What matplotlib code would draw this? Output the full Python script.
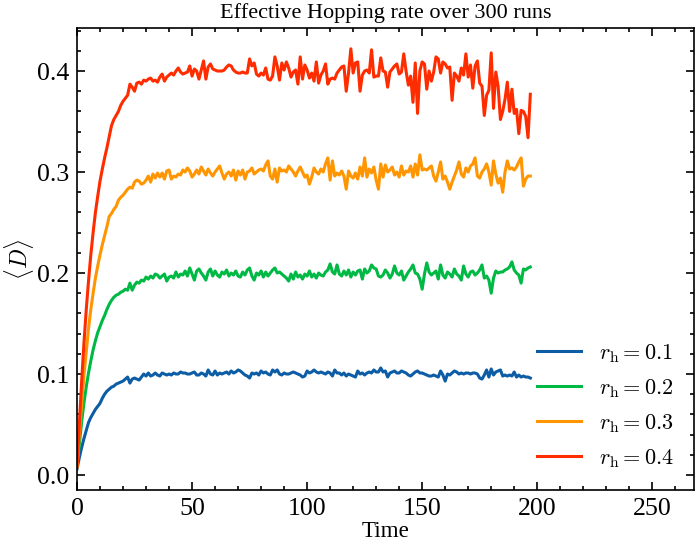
import numpy as np
import matplotlib
matplotlib.use("Agg")
import matplotlib.pyplot as plt
from matplotlib.ticker import MultipleLocator, AutoMinorLocator

# mean hopping rate <D> per time step
d_01 = [
    0.006, 0.017, 0.027, 0.036, 0.044, 0.052, 0.057, 0.061, 0.065, 0.068,
    0.071, 0.076, 0.080, 0.083, 0.085, 0.087, 0.088, 0.090, 0.091, 0.092,
    0.093, 0.095, 0.097, 0.091, 0.095, 0.096, 0.095, 0.094, 0.097, 0.100,
    0.098, 0.101, 0.098, 0.099, 0.101, 0.099, 0.098, 0.101, 0.100, 0.099,
    0.100, 0.099, 0.101, 0.100, 0.100, 0.102, 0.101, 0.101, 0.100, 0.100,
    0.101, 0.102, 0.099, 0.099, 0.101, 0.100, 0.098, 0.104, 0.100, 0.099,
    0.103, 0.099, 0.101, 0.100, 0.101, 0.102, 0.100, 0.103, 0.101, 0.102,
    0.104, 0.103, 0.101, 0.099, 0.098, 0.096, 0.101, 0.100, 0.101, 0.099,
    0.103, 0.101, 0.102, 0.100, 0.099, 0.104, 0.102, 0.104, 0.100, 0.099,
    0.101, 0.100, 0.100, 0.101, 0.102, 0.101, 0.100, 0.099, 0.097, 0.098,
    0.103, 0.101, 0.102, 0.104, 0.102, 0.101, 0.102, 0.101, 0.100, 0.102,
    0.101, 0.098, 0.104, 0.101, 0.101, 0.099, 0.101, 0.098, 0.100, 0.099,
    0.098, 0.097, 0.103, 0.100, 0.101, 0.099, 0.101, 0.102, 0.101, 0.104,
    0.102, 0.102, 0.106, 0.102, 0.103, 0.097, 0.101, 0.102, 0.103, 0.101,
    0.101, 0.103, 0.102, 0.101, 0.099, 0.098, 0.100, 0.102, 0.103, 0.101,
    0.101, 0.100, 0.099, 0.098, 0.098, 0.099, 0.098, 0.097, 0.103, 0.099,
    0.093, 0.100, 0.099, 0.101, 0.103, 0.102, 0.100, 0.101, 0.100, 0.101,
    0.101, 0.100, 0.101, 0.101, 0.100, 0.096, 0.095, 0.099, 0.104, 0.097,
    0.105, 0.099, 0.102, 0.103, 0.104, 0.098, 0.099, 0.098, 0.099, 0.098,
    0.102, 0.097, 0.099, 0.097, 0.098, 0.097, 0.097, 0.096,
]
d_02 = [
    0.008, 0.030, 0.052, 0.071, 0.087, 0.101, 0.113, 0.124, 0.133, 0.141,
    0.147, 0.153, 0.158, 0.164, 0.169, 0.173, 0.176, 0.178, 0.179, 0.181,
    0.182, 0.184, 0.183, 0.190, 0.183, 0.188, 0.191, 0.190, 0.193, 0.192,
    0.196, 0.194, 0.197, 0.195, 0.199, 0.198, 0.195, 0.197, 0.199, 0.192,
    0.196, 0.197, 0.195, 0.201, 0.196, 0.199, 0.198, 0.202, 0.197, 0.205,
    0.199, 0.193, 0.202, 0.204, 0.200, 0.197, 0.193, 0.201, 0.204, 0.197,
    0.202, 0.198, 0.196, 0.201, 0.199, 0.203, 0.197, 0.200, 0.198, 0.202,
    0.197, 0.196, 0.201, 0.198, 0.203, 0.205, 0.197, 0.193, 0.200, 0.198,
    0.202, 0.196, 0.201, 0.197, 0.200, 0.203, 0.205, 0.200, 0.201, 0.199,
    0.197, 0.195, 0.192, 0.199, 0.194, 0.201, 0.196, 0.198, 0.194, 0.199,
    0.197, 0.202, 0.196, 0.199, 0.195, 0.200, 0.198, 0.197, 0.201, 0.203,
    0.209, 0.201, 0.199, 0.208, 0.199, 0.197, 0.202, 0.198, 0.203, 0.196,
    0.201, 0.198, 0.202, 0.203, 0.194, 0.204, 0.200, 0.202, 0.208, 0.205,
    0.204, 0.197, 0.196, 0.198, 0.203, 0.200, 0.195, 0.199, 0.207, 0.200,
    0.198, 0.202, 0.193, 0.197, 0.201, 0.204, 0.208, 0.200, 0.199, 0.194,
    0.184, 0.199, 0.210, 0.201, 0.198, 0.200, 0.202, 0.194, 0.208, 0.198,
    0.195, 0.201, 0.199, 0.196, 0.204, 0.199, 0.197, 0.193, 0.207, 0.199,
    0.196, 0.201, 0.202, 0.198, 0.200, 0.203, 0.208, 0.195, 0.197, 0.193,
    0.180, 0.195, 0.202, 0.200, 0.201, 0.201, 0.203, 0.204, 0.206, 0.211,
    0.203, 0.200, 0.198, 0.190, 0.204, 0.203, 0.205, 0.206,
]
d_03 = [
    0.008, 0.040, 0.070, 0.098, 0.122, 0.145, 0.164, 0.180, 0.195, 0.207,
    0.218, 0.228, 0.237, 0.246, 0.256, 0.259, 0.263, 0.266, 0.272, 0.275,
    0.277, 0.280, 0.283, 0.285, 0.284, 0.290, 0.292, 0.291, 0.288, 0.289,
    0.292, 0.296, 0.290, 0.298, 0.294, 0.299, 0.295, 0.299, 0.293, 0.301,
    0.302, 0.293, 0.296, 0.295, 0.298, 0.297, 0.302, 0.300, 0.304, 0.301,
    0.295, 0.298, 0.302, 0.298, 0.305, 0.301, 0.297, 0.303, 0.299, 0.296,
    0.300, 0.303, 0.306, 0.299, 0.293, 0.298, 0.300, 0.296, 0.302, 0.292,
    0.301, 0.297, 0.302, 0.293, 0.300, 0.301, 0.304, 0.298, 0.300, 0.302,
    0.303, 0.301, 0.307, 0.311, 0.296, 0.293, 0.303, 0.290, 0.304, 0.301,
    0.302, 0.300, 0.306, 0.303, 0.300, 0.296, 0.301, 0.305, 0.300, 0.295,
    0.297, 0.288, 0.295, 0.304, 0.300, 0.298, 0.303, 0.300, 0.308, 0.314,
    0.292, 0.311, 0.296, 0.299, 0.297, 0.301, 0.296, 0.283, 0.301, 0.296,
    0.294, 0.299, 0.293, 0.305, 0.296, 0.314, 0.295, 0.303, 0.299, 0.305,
    0.292, 0.283, 0.308, 0.295, 0.307, 0.300, 0.302, 0.305, 0.297, 0.300,
    0.295, 0.306, 0.297, 0.301, 0.300, 0.306, 0.295, 0.308, 0.297, 0.317,
    0.302, 0.303, 0.302, 0.304, 0.306, 0.296, 0.291, 0.300, 0.310, 0.293,
    0.296, 0.290, 0.283, 0.290, 0.296, 0.302, 0.310, 0.298, 0.295, 0.304,
    0.300, 0.306, 0.308, 0.314, 0.296, 0.294, 0.300, 0.303, 0.308, 0.300,
    0.287, 0.311, 0.298, 0.289, 0.294, 0.280, 0.300, 0.311, 0.303, 0.304,
    0.302, 0.305, 0.310, 0.314, 0.286, 0.293, 0.296, 0.296,
]
d_04 = [
    0.008, 0.050, 0.092, 0.130, 0.163, 0.192, 0.218, 0.240, 0.260, 0.276,
    0.291, 0.303, 0.314, 0.324, 0.335, 0.346, 0.352, 0.356, 0.360, 0.366,
    0.370, 0.373, 0.376, 0.387, 0.384, 0.380, 0.388, 0.389, 0.387, 0.391,
    0.390, 0.392, 0.393, 0.390, 0.391, 0.389, 0.394, 0.397, 0.390, 0.394,
    0.396, 0.398, 0.396, 0.400, 0.403, 0.399, 0.397, 0.398, 0.399, 0.405,
    0.395, 0.402, 0.400, 0.392, 0.401, 0.410, 0.392, 0.404, 0.407, 0.402,
    0.401, 0.400, 0.400, 0.400, 0.401, 0.404, 0.406, 0.405, 0.401, 0.399,
    0.398, 0.398, 0.399, 0.398, 0.398, 0.412, 0.405, 0.408, 0.397, 0.395,
    0.398, 0.396, 0.403, 0.392, 0.391, 0.395, 0.414, 0.405, 0.391, 0.408,
    0.401, 0.409, 0.403, 0.394, 0.399, 0.401, 0.387, 0.414, 0.392, 0.406,
    0.401, 0.393, 0.398, 0.390, 0.409, 0.388, 0.396, 0.400, 0.407, 0.387,
    0.392, 0.393, 0.392, 0.398, 0.401, 0.404, 0.405, 0.380, 0.398, 0.422,
    0.398, 0.408, 0.409, 0.380, 0.396, 0.400, 0.401, 0.398, 0.421, 0.394,
    0.395, 0.395, 0.413, 0.400, 0.399, 0.384, 0.399, 0.402, 0.405, 0.407,
    0.397, 0.399, 0.417, 0.400, 0.386, 0.395, 0.369, 0.408, 0.358, 0.400,
    0.409, 0.407, 0.382, 0.400, 0.390, 0.399, 0.414, 0.412, 0.398, 0.409,
    0.407, 0.403, 0.404, 0.371, 0.398, 0.395, 0.390, 0.403, 0.396, 0.417,
    0.394, 0.406, 0.383, 0.405, 0.410, 0.388, 0.385, 0.356, 0.376, 0.381,
    0.418, 0.363, 0.399, 0.385, 0.352, 0.360, 0.372, 0.389, 0.360, 0.382,
    0.358, 0.362, 0.338, 0.361, 0.360, 0.355, 0.334, 0.377,
]

series = [d_01, d_02, d_03, d_04]
labels = [r"$r_\mathrm{h} = 0.1$", r"$r_\mathrm{h} = 0.2$",
          r"$r_\mathrm{h} = 0.3$", r"$r_\mathrm{h} = 0.4$"]
colors = ["#0C5DA5", "#00B945", "#FF9500", "#FF2C00"]

plt.rcParams["font.family"] = ["Liberation Serif", "DejaVu Serif"]
plt.rcParams["mathtext.fontset"] = "cm"
plt.rcParams["font.size"] = 8
plt.rcParams["axes.linewidth"] = 0.6

fig, ax = plt.subplots(figsize=(3.5, 2.725), dpi=200)
fig.subplots_adjust(left=0.110, right=0.991, bottom=0.101, top=0.949)

for vals, lab, col in zip(series, labels, colors):
    ax.plot(np.arange(len(vals)), vals, color=col, lw=1.1, label=lab)

ax.set_xlim(0, 268)
ax.xaxis.set_major_locator(MultipleLocator(50))
ax.xaxis.set_minor_locator(AutoMinorLocator(5))
ax.yaxis.set_major_locator(MultipleLocator(0.1))
ax.yaxis.set_minor_locator(AutoMinorLocator(5))
ax.tick_params(which="both", direction="in", top=True, right=True, width=0.6,
               labelsize=9.3)
ax.tick_params(which="major", length=3, pad=2.8)
ax.tick_params(which="minor", length=1.5)

ax.set_xlabel("Time", fontsize=8.3, labelpad=0.5)
ax.set_ylabel(r"$\langle D \rangle$", fontsize=8.5, labelpad=0.5)
ax.set_title("Effective Hopping rate over 300 runs", fontsize=8, pad=3.5)
ax.legend(loc="lower right", frameon=False, fontsize=8,
          borderaxespad=0.5, labelspacing=0.55)

fig.savefig("out.png", dpi=200)
